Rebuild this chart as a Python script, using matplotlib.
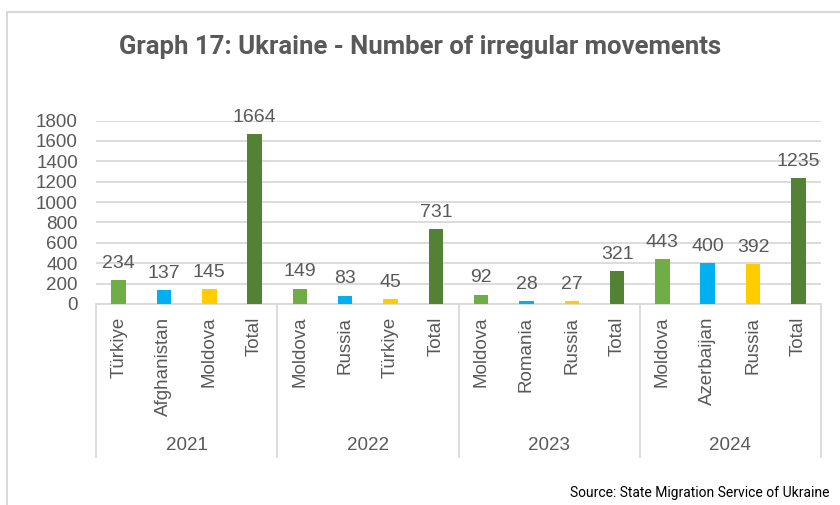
import matplotlib.pyplot as plt
import matplotlib.transforms as mtransforms
from matplotlib.patches import Rectangle

# data
years = ['2021', '2022', '2023', '2024']
countries = [
    ['Türkiye', 'Afghanistan', 'Moldova', 'Total'],
    ['Moldova', 'Russia', 'Türkiye', 'Total'],
    ['Moldova', 'Romania', 'Russia', 'Total'],
    ['Moldova', 'Azerbaijan', 'Russia', 'Total'],
]
values = [
    [234, 137, 145, 1664],
    [149, 83, 45, 731],
    [92, 28, 27, 321],
    [443, 400, 392, 1235],
]
colors = ['#70AD47', '#00B0F0', '#FFCC00', '#548235']

text_gray = '#595959'
grid_gray = '#D9D9D9'

W, H = 840, 505
fig = plt.figure(figsize=(W / 100, H / 100), dpi=100)

# outer chart frame
fig.patches.append(Rectangle((7 / W, -0.1), 1.0, 1 - 12 / H + 0.1,
                             transform=fig.transFigure, fill=False,
                             edgecolor=grid_gray, linewidth=1.5))

# plot area in pixels
left, right, top, bottom = 96, 821, 120.5, 304
ax = fig.add_axes([left / W, 1 - bottom / H, (right - left) / W, (bottom - top) / H])

xs, hs, cs, labels = [], [], [], []
i = 0
for g in range(len(years)):
    for k in range(4):
        xs.append(i)
        hs.append(values[g][k])
        cs.append(colors[k])
        labels.append(countries[g][k])
        i += 1

bars = ax.bar(xs, hs, width=0.32, color=cs, zorder=3)
for x, h in zip(xs, hs):
    ax.annotate(str(h), (x, h), xytext=(0, 6), textcoords='offset points',
                ha='center', va='bottom', fontsize=14, color=text_gray,
                family='Liberation Sans', clip_on=False)

ax.set_xlim(-0.5, len(xs) - 0.5)
ax.set_ylim(0, 1800)
ax.set_yticks(range(0, 1801, 200))
ax.yaxis.grid(True, color=grid_gray, linewidth=1.3, zorder=0)
ax.tick_params(axis='y', length=0, pad=13, labelsize=13.5, labelcolor=text_gray)
for t in ax.get_yticklabels():
    t.set_family('Liberation Sans')

ax.set_xticks(xs)
ax.set_xticklabels(labels, rotation=90, va='top', ha='center',
                   fontsize=13.5, color=text_gray, family='Liberation Sans')
ax.tick_params(axis='x', length=0, pad=9)

for s in ['top', 'right', 'left']:
    ax.spines[s].set_visible(False)
ax.spines['bottom'].set_color(grid_gray)
ax.spines['bottom'].set_linewidth(1.3)

# group separators and year labels below the axis
ah = bottom - top
trans = mtransforms.blended_transform_factory(ax.transData, ax.transAxes)
for g in range(len(years) + 1):
    ax.plot([g * 4 - 0.5, g * 4 - 0.5], [0, -(457 - bottom) / ah], transform=trans,
            color=grid_gray, linewidth=1.3, clip_on=False)
for g, yr in enumerate(years):
    ax.text(g * 4 + 1.5, -(445 - bottom) / ah, yr, transform=trans, ha='center',
            va='center', fontsize=13.5, color=text_gray, family='Liberation Sans')

fig.text(0.5, 1 - 47 / H, 'Graph 17: Ukraine - Number of irregular movements',
         ha='center', va='center', fontsize=18.5, fontweight='bold',
         color=text_gray, family='Roboto')
fig.text(830 / W, 1 - 493 / H, 'Source: State Migration Service of Ukraine',
         ha='right', va='center', fontsize=10, color='black', family='Roboto')

fig.savefig('out.png', dpi=100)
